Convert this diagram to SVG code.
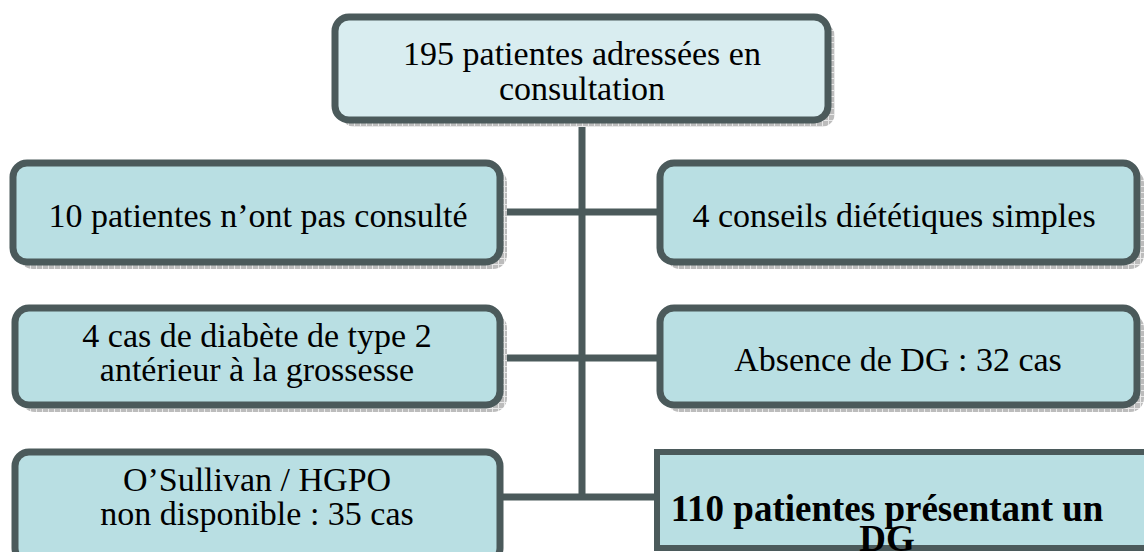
<svg xmlns="http://www.w3.org/2000/svg" width="1144" height="552" viewBox="0 0 1144 552">
<style>
.box{fill:#b9dfe3;stroke:#4b5a5b;stroke-width:7}
.top{fill:#d9edf0}
.sh{fill:url(#hatch);stroke:none}
.t{font-family:'Liberation Serif','Times New Roman',serif;font-size:34px;fill:#000;text-anchor:middle}
.b{font-weight:bold;font-size:37px}
.ln{stroke:#4b5a5b;stroke-width:7;fill:none}
</style>
<defs>
<pattern id="hatch" width="6" height="6" patternUnits="userSpaceOnUse">
<rect width="6" height="6" fill="#bcbcbc"/>
<path d="M0 0.5H6M0.5 0V6" stroke="#e8e8e8" stroke-width="1"/>
</pattern>
</defs>
<rect width="1144" height="552" fill="#fff"/>
<g id="connectors">
<line class="ln" x1="582" y1="120" x2="582" y2="500"/>
<line class="ln" x1="500" y1="212" x2="660" y2="212"/>
<line class="ln" x1="500" y1="358" x2="660" y2="358"/>
<line class="ln" x1="500" y1="497" x2="660" y2="497"/>
</g>
<g id="n-top">
<rect class="sh" x="341" y="23" width="494" height="104" rx="14"/>
<rect class="box top" x="335" y="17" width="493" height="103" rx="14"/>
<text class="t" x="582" y="65">195 patientes adressées en</text>
<text class="t" x="582" y="100">consultation</text>
</g>
<g id="n-nonconsult">
<rect class="sh" x="19" y="169" width="488" height="100" rx="14"/>
<rect class="box" x="13" y="163" width="487" height="99" rx="14"/>
<text class="t" x="258" y="227">10 patientes n’ont pas consulté</text>
</g>
<g id="n-conseils">
<rect class="sh" x="666" y="169" width="478" height="100" rx="14"/>
<rect class="box" x="660" y="163" width="477" height="99" rx="14"/>
<text class="t" x="894" y="227">4 conseils diététiques simples</text>
</g>
<g id="n-type2">
<rect class="sh" x="21" y="314" width="486" height="98" rx="14"/>
<rect class="box" x="15" y="308" width="485" height="97" rx="14"/>
<text class="t" x="257" y="347">4 cas de diabète de type 2</text>
<text class="t" x="257" y="381">antérieur à la grossesse</text>
</g>
<g id="n-absence">
<rect class="sh" x="666" y="314" width="478" height="98" rx="14"/>
<rect class="box" x="660" y="308" width="477" height="97" rx="14"/>
<text class="t" x="898" y="371">Absence de DG : 32 cas</text>
</g>
<g id="n-osullivan">
<rect class="box" x="15" y="452" width="485" height="110" rx="14"/>
<text class="t" x="257" y="491">O’Sullivan / HGPO</text>
<text class="t" x="257" y="525">non disponible : 35 cas</text>
</g>
<g id="n-dg">
<rect x="657" y="452" width="500" height="96" fill="#b9dfe3" stroke="#4b5a5b" stroke-width="6"/>
<text class="t b" x="887" y="521">110 patientes présentant un</text>
<text class="t b" x="887" y="551">DG</text>
</g>
</svg>
